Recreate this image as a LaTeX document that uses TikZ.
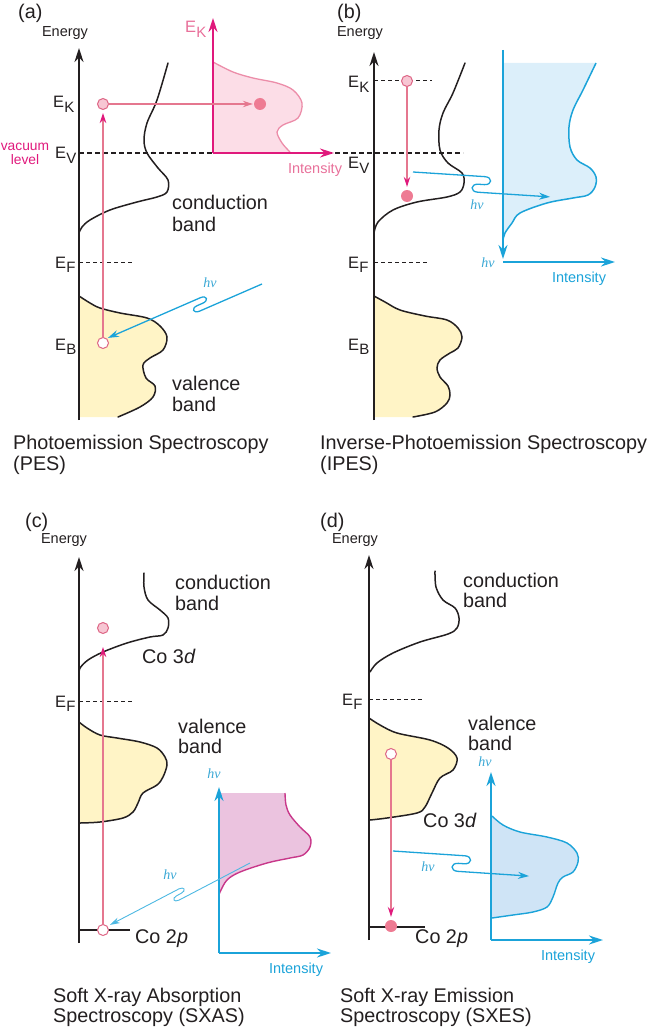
\documentclass[tikz,border=0pt]{standalone}
\usepackage{fontspec}
\setmainfont{Liberation Sans}
\newfontfamily\hvfont{Liberation Serif}
\usetikzlibrary{arrows.meta}
\definecolor{ink}{HTML}{231F20}
\definecolor{yell}{HTML}{FFF4C6}
\definecolor{cyanx}{HTML}{1BA3D9}
\definecolor{cyanl}{HTML}{4DB8E2}
\definecolor{hvc}{HTML}{3AA8D5}
\definecolor{pinkl}{HTML}{E5778F}
\definecolor{magx}{HTML}{E0197C}
\definecolor{circfill}{HTML}{F7C6D3}
\definecolor{circdraw}{HTML}{DE6585}
\definecolor{dotfill}{HTML}{EE7B93}
\definecolor{specAfill}{HTML}{FCDDE7}
\definecolor{specAline}{HTML}{EC8DA9}
\definecolor{pinktxt}{HTML}{E8709A}
\definecolor{specBfill}{HTML}{DCEFFA}
\definecolor{specCfill}{HTML}{EBC3DF}
\definecolor{specCline}{HTML}{C8388A}
\definecolor{specDfill}{HTML}{CFE4F6}
% #1 start, #2 rotation, #3 squiggle position, #4 length, #5 offset, #6 hairpin, #7 back, #8 style
\newcommand{\photonpath}[8]{%
  \begin{scope}[shift={#1},rotate=#2]
    \draw[#8] (0,0) -- (#3,0) .. controls +(#6,0) and +(#6,0) .. (#3,#5/2)
      -- ({#3-#7},#5/2) .. controls +(-#6,0) and +(-#6,0) .. ({#3-#7},#5) -- (#4,#5);
  \end{scope}}
\newcommand{\Elab}[1]{E\kern0.2pt\raisebox{-4.5pt}{\fontsize{15}{15}\selectfont #1}}
\begin{document}
\begin{tikzpicture}[x=1pt,y=-1pt,
  every node/.style={inner sep=0pt, text=ink},
  main/.style={font=\fontsize{19.8}{22}\selectfont, anchor=base west},
  sml/.style={font=\fontsize{14.5}{16}\selectfont, anchor=base},
  vsml/.style={font=\fontsize{13.8}{15}\selectfont, anchor=base},
  elbl/.style={font=\fontsize{16.5}{17}\selectfont, anchor=base west},
  hvl/.style={font=\hvfont\itshape\fontsize{14}{14}\selectfont, text=hvc},
  intl/.style={font=\fontsize{14.5}{16}\selectfont},
  eaxis/.style={draw=ink, line width=1.8pt, -{Stealth[length=14pt,width=9pt]}},
  maxis/.style={draw=magx, line width=1.8pt, -{Stealth[length=14pt,width=9pt]}},
  baxis/.style={draw=cyanx, line width=1.8pt, -{Stealth[length=14pt,width=9pt]}},
  bandc/.style={draw=ink, line width=1.5pt, line cap=round},
  dashV/.style={draw=ink, line width=1.6pt, dash pattern=on 5pt off 3pt},
  dashF/.style={draw=ink, line width=1pt, dash pattern=on 4pt off 3pt},
  levelline/.style={draw=ink, line width=1.5pt},
  pinkv/.style={draw=pinkl, line width=1.1pt, -{Stealth[length=10pt,width=6.5pt,color=magx]}},
  pinkh/.style={draw=pinkl, line width=1.1pt, -{Stealth[length=10pt,width=6.5pt]}},
  photon/.style={draw=cyanx, line width=1.3pt, -{Stealth[length=11pt,width=7pt]}},
  photonthin/.style={draw=cyanl, line width=0.9pt, -{Stealth[length=10pt,width=6pt]}},
  ecirc/.style={circle, draw=circdraw, fill=circfill, line width=1pt, minimum size=11pt},
  hcirc/.style={circle, draw=circdraw, fill=white, line width=1pt, minimum size=11pt},
  dotc/.style={circle, fill=dotfill, minimum size=12pt},
]
\useasboundingbox (0,0) rectangle (650,1032);

% ================= (a) PES =================
\fill[yell] plot[smooth,tension=0.55] coordinates {(79,296)(90,303)(100,308)(120,313)(147,318)(160,326)(167,337)(163,350)(150,358)(143,365)(146,378)(155,386)(153,397)(140,407)(118,417)} -- (79,417) -- cycle;
\draw[bandc] plot[smooth,tension=0.55] coordinates {(79,296)(90,303)(100,308)(120,313)(147,318)(160,326)(167,337)(163,350)(150,358)(143,365)(146,378)(155,386)(153,397)(140,407)(118,417)};
\draw[bandc] plot[smooth,tension=0.55] coordinates {(168,63)(157,100)(147,123)(144,140)(147,153)(158,168)(168,180)(167,192)(157,197)(137,202)(110,210)(90,220)(82,227)(79,233)};
\fill[specAfill] plot[smooth,tension=0.55] coordinates {(213,62)(233,72)(253,78)(277,83)(293,90)(302,103)(298,118)(283,125)(277,132)(282,143)(290,152)} -- (213,153) -- cycle;
\draw[specAline, line width=1.3pt] plot[smooth,tension=0.55] coordinates {(213,62)(233,72)(253,78)(277,83)(293,90)(302,103)(298,118)(283,125)(277,132)(282,143)(290,152)};
\draw[dashV] (79,153) -- (463,153);
\draw[dashF] (79,262) -- (134,262);
\coordinate (oA) at (213,153);
\coordinate (tA1) at (213,18);
\coordinate (tA2) at (334,153);
\draw[maxis] (oA) -- (tA1);
\draw[maxis] (oA) -- (tA2);
\coordinate (bA) at (79,420);
\coordinate (topA) at (79,48);
\draw[eaxis] (bA) -- (topA);
\node[ecirc] (ekA) at (103,104) {};
\node[hcirc] (ebA) at (103,343) {};
\node[dotc] (dotA) at (260,104) {};
\draw[pinkv, shorten >=3pt] (ebA) -- (ekA);
\draw[pinkh, shorten >=1pt] (ekA) -- (dotA);
\photonpath{(262,284)}{-156.5}{68}{162.8}{12}{7}{6}{photon}

\node[main] (labA) at (18,19) {(a)};
\node[sml] (enA) at (65,37) {Energy};
\node[elbl] (ekAl) at (53,108) {\Elab{K}};
\node[vsml, text=magx] (vacA1) at (25,151) {vacuum};
\node[vsml, text=magx] (vacA2) at (25,165) {level};
\node[elbl] (evAl) at (55,159) {\Elab{V}};
\node[elbl] (efAl) at (55,268) {\Elab{F}};
\node[elbl] (ebAl) at (55,350) {\Elab{B}};
\node[elbl, text=pinktxt] (ekAx) at (185,33) {\Elab{K}};
\node[intl, text=pinktxt] (intA) at (315,170) {Intensity};
\node[main] (cbA1) at (172,210) {conduction};
\node[main] (cbA2) at (172,232) {band};
\node[main] (vbA1) at (172,390) {valence};
\node[main] (vbA2) at (172,411) {band};
\node[hvl] (hvA) at (210,283) {hν};
\node[main] (capA1) at (13,449) {Photoemission Spectroscopy};
\node[main] (capA2) at (13,470) {(PES)};

% ================= (b) IPES =================
\fill[yell] plot[smooth,tension=0.55] coordinates {(374,296)(385,302)(400,310)(425,316)(447,320)(458,328)(462,337)(458,348)(450,353)(440,360)(437,368)(440,377)(448,386)(450,395)(447,403)(435,412)(413,417)} -- (374,417) -- cycle;
\draw[bandc] plot[smooth,tension=0.55] coordinates {(374,296)(385,302)(400,310)(425,316)(447,320)(458,328)(462,337)(458,348)(450,353)(440,360)(437,368)(440,377)(448,386)(450,395)(447,403)(435,412)(413,417)};
\draw[bandc] plot[smooth,tension=0.55] coordinates {(465,63)(453,93)(443,113)(439,130)(440,150)(448,163)(462,173)(464,183)(460,192)(447,197)(417,202)(393,210)(378,222)(374,233)};
\fill[specBfill] (503,63) -- plot[smooth,tension=0.55] coordinates {(596,63)(583,90)(573,110)(569,127)(570,147)(577,160)(590,168)(596,177)(595,187)(588,195)(573,198)(547,203)(520,213)(512,223)(505,233)} -- (503,236) -- cycle;
\draw[cyanx, line width=1.5pt] plot[smooth,tension=0.55] coordinates {(596,63)(583,90)(573,110)(569,127)(570,147)(577,160)(590,168)(596,177)(595,187)(588,195)(573,198)(547,203)(520,213)(512,223)(505,233)(503,240)};
\draw[dashF] (374,81) -- (432,81);
\draw[dashF] (374,262) -- (428,262);
\coordinate (topB1) at (503,50);
\coordinate (botB1) at (503,259);
\coordinate (oB) at (503,262);
\coordinate (tB2) at (615,262);
\draw[baxis] (topB1) -- (botB1);
\draw[baxis] (oB) -- (tB2);
\coordinate (bB) at (374,420);
\coordinate (topB) at (374,52);
\draw[eaxis] (bB) -- (topB);
\node[ecirc] (ekB) at (407,81) {};
\node[dotc] (dotB) at (407,196) {};
\draw[pinkv, shorten >=3pt] (ekB) -- (dotB);
\photonpath{(413,172)}{-3.7}{72}{138.4}{16}{8}{6}{photon}

\node[main] (labB) at (337,19) {(b)};
\node[sml] (enB) at (360,37) {Energy};
\node[elbl] (ekBl) at (348,88) {\Elab{K}};
\node[elbl] (evBl) at (348,169) {\Elab{V}};
\node[elbl] (efBl) at (348,268) {\Elab{F}};
\node[elbl] (ebBl) at (348,350) {\Elab{B}};
\node[hvl] (hvB) at (477,205) {hν};
\node[hvl] (hvBx) at (488,263) {hν};
\node[intl, text=cyanx] (intB) at (579,279) {Intensity};
\node[main] (capB1) at (320,449) {Inverse-Photoemission Spectroscopy};
\node[main] (capB2) at (320,470) {(IPES)};

% ================= (c) SXAS =================
\fill[yell] plot[smooth,tension=0.55] coordinates {(79,722)(87,728)(100,735)(117,738)(140,742)(157,748)(165,757)(167,765)(163,777)(157,785)(143,793)(138,803)(133,812)(123,818)(100,822)(80,823)} -- cycle;
\draw[bandc] plot[smooth,tension=0.55] coordinates {(79,722)(87,728)(100,735)(117,738)(140,742)(157,748)(165,757)(167,765)(163,777)(157,785)(143,793)(138,803)(133,812)(123,818)(100,822)(80,823)};
\draw[bandc] plot[smooth,tension=0.55] coordinates {(144,573)(144,587)(148,600)(160,610)(168,618)(168,628)(163,635)(150,637)(127,643)(103,652)(88,660)(80,668)(79,673)};
\fill[specCfill] (219,793) -- plot[smooth,tension=0.55] coordinates {(285,793)(286,805)(290,815)(300,827)(310,837)(310,847)(303,855)(290,858)(267,863)(240,872)(227,880)(220,892)(219,895)} -- cycle;
\draw[specCline, line width=1.4pt] plot[smooth,tension=0.55] coordinates {(285,793)(286,805)(290,815)(300,827)(310,837)(310,847)(303,855)(290,858)(267,863)(240,872)(227,880)(220,892)(219,895)};
\draw[dashF] (79,701) -- (133,701);
\draw[levelline] (79,930) -- (130,930);
\coordinate (oC) at (219,953);
\coordinate (tC1) at (219,787);
\coordinate (tC2) at (331,953);
\draw[baxis] (oC) -- (tC1);
\draw[baxis] (oC) -- (tC2);
\coordinate (bC) at (79,943);
\coordinate (topC) at (79,557);
\draw[eaxis] (bC) -- (topC);
\node[ecirc] (cdC) at (103,628) {};
\node[hcirc] (cpC) at (103,930) {};
\draw[pinkv, shorten >=13pt] (cpC) -- (cdC);
\photonpath{(250,863)}{-152.4}{80}{152.8}{10}{6}{5}{photonthin}

\node[main] (labC) at (25,527) {(c)};
\node[sml] (enC) at (64,543) {Energy};
\node[elbl] (efCl) at (55,707) {\Elab{F}};
\node[main] (cbC1) at (175,589) {conduction};
\node[main] (cbC2) at (175,610) {band};
\node[main] (co3C) at (142,663) {Co 3\textit{d}};
\node[main] (vbC1) at (178,733) {valence};
\node[main] (vbC2) at (178,753) {band};
\node[main] (co2C) at (135,943) {Co 2\textit{p}};
\node[hvl] (hvC) at (170,875) {hν};
\node[hvl] (hvCx) at (214,774) {hν};
\node[intl, text=cyanx] (intC) at (296,970) {Intensity};
\node[main] (capC1) at (53,1002) {Soft X-ray Absorption};
\node[main] (capC2) at (53,1022) {Spectroscopy (SXAS)};

% ================= (d) SXES =================
\fill[yell] plot[smooth,tension=0.55] coordinates {(369,718)(380,725)(397,733)(430,740)(448,748)(457,758)(453,770)(440,778)(432,793)(425,807)(417,813)(387,818)(370,820)} -- cycle;
\draw[bandc] plot[smooth,tension=0.55] coordinates {(369,718)(380,725)(397,733)(430,740)(448,748)(457,758)(453,770)(440,778)(432,793)(425,807)(417,813)(387,818)(370,820)};
\draw[bandc] plot[smooth,tension=0.55] coordinates {(435,571)(436,587)(443,600)(455,608)(459,618)(457,628)(448,634)(420,642)(393,653)(377,663)(370,672)};
\fill[specDfill] plot[smooth,tension=0.55] coordinates {(492,816)(503,825)(520,832)(547,837)(567,843)(577,853)(578,862)(573,872)(563,877)(558,883)(553,897)(547,907)(533,912)(513,915)(492,918)} -- cycle;
\draw[cyanx, line width=1.4pt] plot[smooth,tension=0.55] coordinates {(492,816)(503,825)(520,832)(547,837)(567,843)(577,853)(578,862)(573,872)(563,877)(558,883)(553,897)(547,907)(533,912)(513,915)(492,918)};
\draw[dashF] (369,699) -- (424,699);
\draw[levelline] (369,927) -- (425,927);
\coordinate (oD) at (491,940);
\coordinate (tD1) at (491,772);
\coordinate (tD2) at (603,940);
\draw[baxis] (oD) -- (tD1);
\draw[baxis] (oD) -- (tD2);
\coordinate (bD) at (369,940);
\coordinate (topD) at (369,555);
\draw[eaxis] (bD) -- (topD);
\node[hcirc] (vhD) at (391,754) {};
\node[dotc] (cpD) at (391,926) {};
\draw[pinkv, shorten >=3pt] (vhD) -- (cpD);
\photonpath{(393,851)}{-3.8}{72}{137.4}{16}{8}{6}{photon}

\node[main] (labD) at (320,527) {(d)};
\node[sml] (enD) at (355,543) {Energy};
\node[elbl] (efDl) at (342,705) {\Elab{F}};
\node[main] (cbD1) at (463,587) {conduction};
\node[main] (cbD2) at (463,607) {band};
\node[main] (vbD1) at (468,730) {valence};
\node[main] (vbD2) at (468,750) {band};
\node[main] (co3D) at (423,827) {Co 3\textit{d}};
\node[main] (co2D) at (415,943) {Co 2\textit{p}};
\node[hvl] (hvD) at (428,867) {hν};
\node[hvl] (hvDx) at (485,762) {hν};
\node[intl, text=cyanx] (intD) at (568,957) {Intensity};
\node[main] (capD1) at (340,1002) {Soft X-ray Emission};
\node[main] (capD2) at (340,1022) {Spectroscopy (SXES)};
\end{tikzpicture}
\end{document}
